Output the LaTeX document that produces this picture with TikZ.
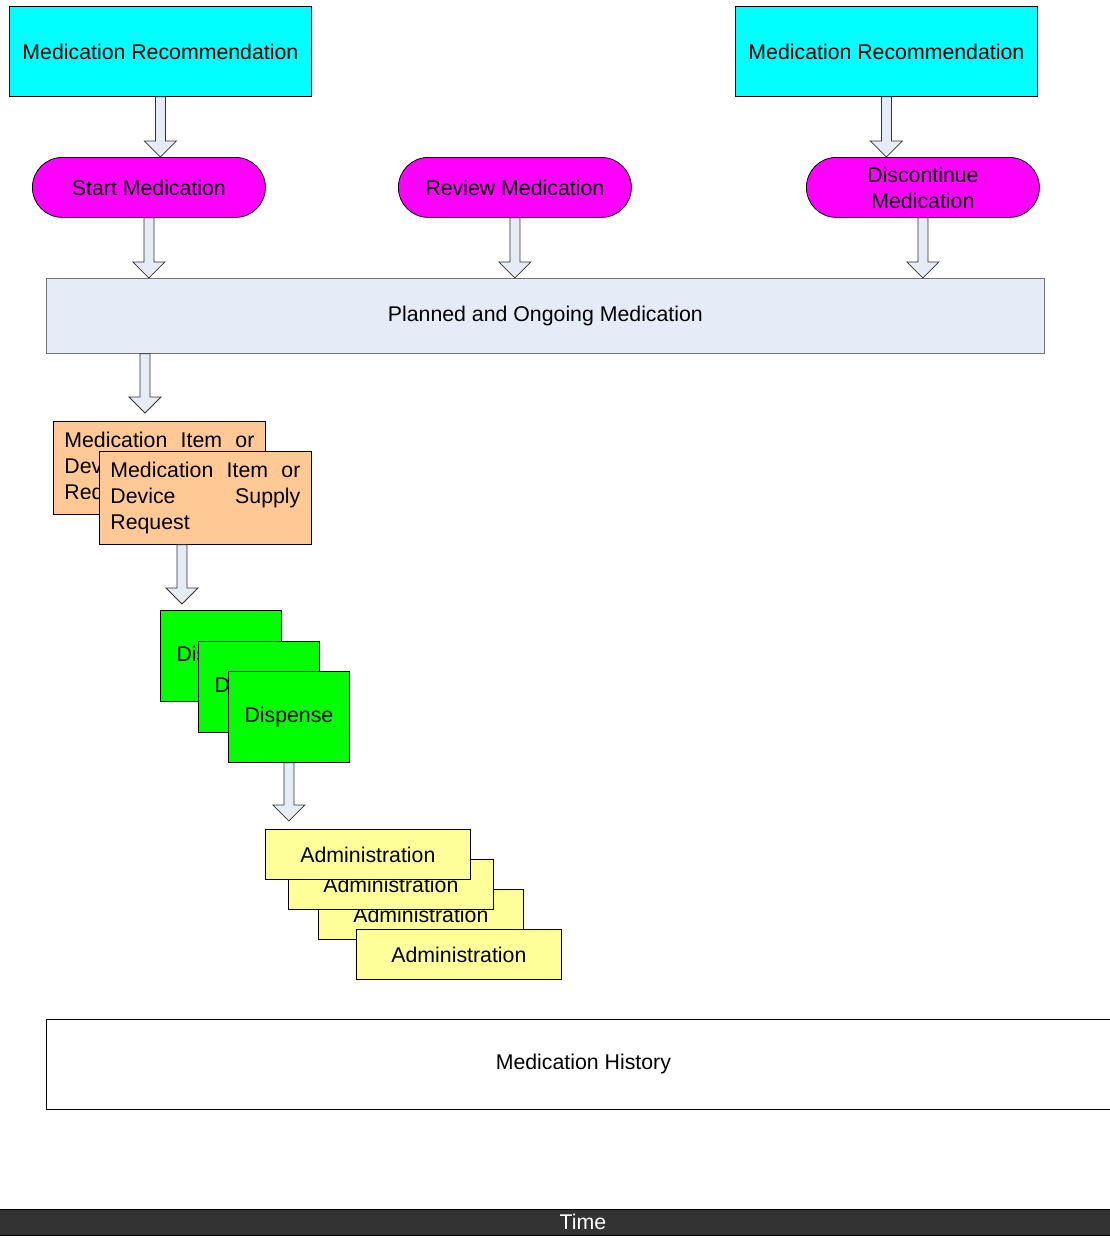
\documentclass[tikz,border=0pt]{standalone}
\usepackage{fontspec}
\setmainfont{Liberation Sans}
\usetikzlibrary{calc}

\definecolor{recfill}{RGB}{0,255,255}
\definecolor{actfill}{RGB}{255,0,255}
\definecolor{planfill}{RGB}{230,236,247}
\definecolor{reqfill}{RGB}{255,201,150}
\definecolor{dispfill}{RGB}{0,255,0}
\definecolor{admfill}{RGB}{255,255,153}
\definecolor{arrfill}{RGB}{230,236,245}
\definecolor{timefill}{RGB}{51,51,51}

\tikzset{
  box/.style={draw, line width=0.8pt, inner sep=0pt, anchor=north west,
    font=\fontsize{21.3}{26}\selectfont},
  recbox/.style={box, fill=recfill, minimum width=302pt, minimum height=90pt},
  actbox/.style={box, fill=actfill, rounded corners=30pt, align=center,
    minimum width=233pt, minimum height=60pt},
  reqbox/.style={box, fill=reqfill, minimum width=212pt, minimum height=93pt,
    text width=190pt, align=left},
  dispbox/.style={box, fill=dispfill, minimum width=121pt, minimum height=91pt},
  admbox/.style={box, fill=admfill, minimum width=205pt, minimum height=50pt},
  blockarr/.style={draw=black!80, fill=arrfill, line width=0.8pt,
    to path={let \p1=(\tikztostart), \p2=(\tikztotarget) in
      (\x1-5pt,\y1) -- (\x1+5pt,\y1) -- (\x1+5pt,\y2+16pt) -- (\x1+16pt,\y2+16pt)
      -- (\x1,\y2) -- (\x1-16pt,\y2+16pt) -- (\x1-5pt,\y2+16pt) -- cycle}},
}

\newcommand{\reqtext}{Medication\hfill Item\hfill or\\Device\hfill Supply\\Request}

\begin{document}
\begin{tikzpicture}[x=1pt,y=-1pt]
  \useasboundingbox (0,0) rectangle (1110,1256);

  \node[recbox] (rec1) at (9,6) {Medication Recommendation};
  \node[recbox] (rec2) at (735,6) {Medication Recommendation};

  \node[actbox] (start) at (32,157) {Start Medication};
  \node[actbox] (review) at (398,157) {Review Medication};
  \node[actbox] (stop) at (806,157) {Discontinue\\Medication};

  \node[box, fill=planfill, draw=black!55, minimum width=998pt, minimum height=75pt]
    (planned) at (46,278) {Planned and Ongoing Medication};

  % stacked records
  \node[reqbox] (reqback) at (53,421) {\reqtext};
  \node[reqbox] (req) at (99,451) {\reqtext};

  \node[dispbox] (disp1) at (160,610) {Dispense};
  \node[dispbox] (disp2) at (198,641) {Dispense};
  \node[dispbox] (disp3) at (228,671) {Dispense};

  \node[admbox] (adm3) at (318,889) {Administration};
  \node[admbox] (adm4) at (356,929) {Administration};
  \node[admbox] (adm2) at (288,859) {Administration};
  \node[admbox] (adm1) at (265,829) {Administration};

  \node[box, fill=white, minimum width=1074pt, minimum height=90pt]
    (history) at (46,1019) {Medication History};

  \node[fill=timefill, draw=black, line width=0.8pt, minimum width=1180pt,
    minimum height=26pt, inner sep=0pt, text=white,
    font=\fontsize{21.3}{26}\selectfont] (time) at (583,1222) {Time};

  % block arrows
  \draw[blockarr] (rec1.south) to (start.north);
  \draw[blockarr] (rec2.south) to (stop.north);
  \draw[blockarr] (start.south) to (planned.north);
  \draw[blockarr] (review.south) to (planned.north);
  \draw[blockarr] (stop.south) to (planned.north);
  \draw[blockarr] ([xshift=99pt]planned.south west) to ([yshift=8pt]reqback.north);
  \draw[blockarr] ([xshift=83pt]req.south west) to ([yshift=6pt]disp1.north);
  \draw[blockarr] (disp3.south) to ([yshift=8pt]adm1.north);
\end{tikzpicture}
\end{document}
